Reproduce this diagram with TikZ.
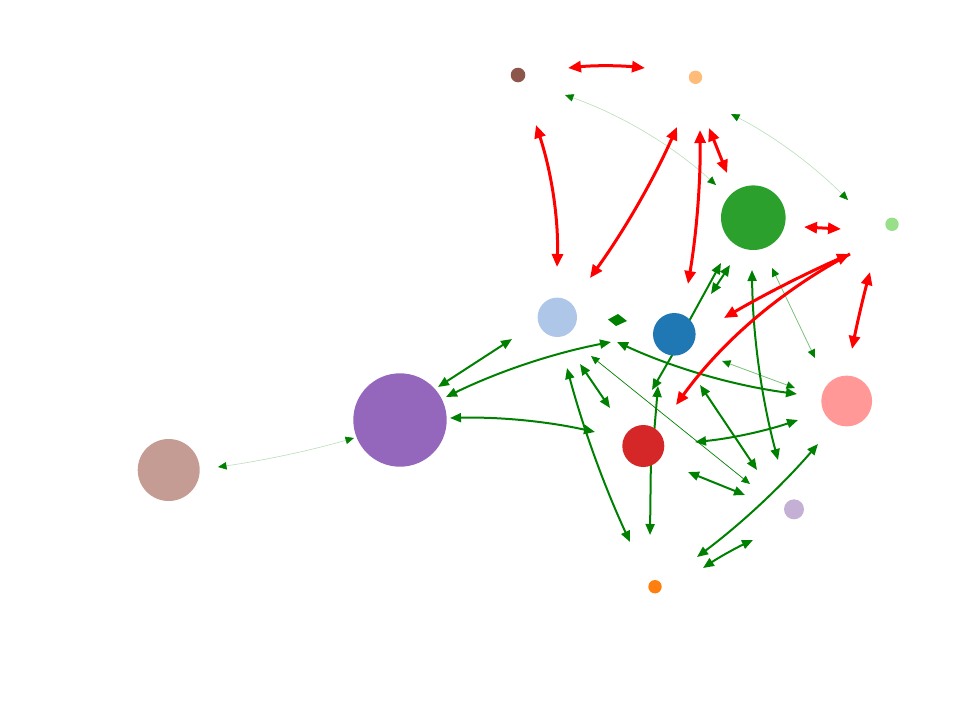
\documentclass[tikz,border=0pt]{standalone}
\usetikzlibrary{arrows.meta,calc}
\definecolor{cBrown}{HTML}{8C564B}
\definecolor{cLOrange}{HTML}{FFBB78}
\definecolor{cGreen}{HTML}{2CA02C}
\definecolor{cLGreen}{HTML}{98DF8A}
\definecolor{cLBlue}{HTML}{AEC7E8}
\definecolor{cBlue}{HTML}{1F77B4}
\definecolor{cPink}{HTML}{FF9896}
\definecolor{cPurple}{HTML}{9467BD}
\definecolor{cRosy}{HTML}{C49C94}
\definecolor{cRed}{HTML}{D62728}
\definecolor{cLPurple}{HTML}{C5B0D5}
\definecolor{cOrange}{HTML}{FF7F0E}
\definecolor{edgeRed}{HTML}{FF0000}
\definecolor{dkgreen}{HTML}{008000}
\definecolor{paleGreen}{HTML}{B8DEB8}
\definecolor{midGreen}{HTML}{7CC07C}
\pgfdeclarelayer{edges}
\pgfsetlayers{edges,main}
\begin{document}
\begin{tikzpicture}[x=1pt,y=-1pt,
  dot/.style={circle,inner sep=0pt,minimum size=#1,draw=none},
  redtip/.tip={Triangle[length=13pt,width=11pt]},
  gtip/.tip={Triangle[length=11pt,width=9pt]},
  ttip/.tip={Triangle[length=8.5pt,width=7.5pt,color=dkgreen]},
  redE/.style={draw=edgeRed,line width=3pt,redtip-redtip},
  redEend/.style={draw=edgeRed,line width=3pt,-redtip},
  grE/.style={draw=dkgreen,line width=2pt,gtip-gtip},
  grEend/.style={draw=dkgreen,line width=2pt,-gtip},
  thinE/.style={draw=paleGreen,line width=0.6pt,ttip-ttip},
  midE/.style={draw=midGreen,line width=0.8pt,ttip-ttip},
  darkthinE/.style={draw=dkgreen,line width=0.7pt,ttip-ttip}
]
\useasboundingbox (0,0) rectangle (979,707);
% nodes
\node[dot=14.6pt,fill=cBrown]   (brown)   at (518,75) {};
\node[dot=13.4pt,fill=cLOrange] (lorange) at (695.5,77.3) {};
\node[dot=64.6pt,fill=cGreen]   (green)   at (753.3,217.7) {};
\node[dot=13.4pt,fill=cLGreen]  (lgreen)  at (892,224.3) {};
\node[dot=39.4pt,fill=cLBlue]   (lblue)   at (557.3,317.3) {};
\node[dot=42.6pt,fill=cBlue]    (blue)    at (674.3,334.3) {};
\node[dot=50.8pt,fill=cPink]    (pink)    at (846.7,401) {};
\node[dot=93.4pt,fill=cPurple]  (purple)  at (400,420) {};
\node[dot=62pt,fill=cRosy]      (rosy)    at (168.7,470) {};
\node[dot=42pt,fill=cRed]       (red)     at (643.3,446) {};
\node[dot=20pt,fill=cLPurple]   (lpurple) at (794,509.3) {};
\node[dot=13.4pt,fill=cOrange]  (orange)  at (655,586.7) {};
% edge end points
\coordinate (r1a) at (568,68);   \coordinate (r1b) at (645,68);
\coordinate (r2a) at (536,125);  \coordinate (r2b) at (557,267);
\coordinate (r3a) at (677,127);  \coordinate (r3b) at (590,278);
\coordinate (r4a) at (700,130);  \coordinate (r4b) at (688,284);
\coordinate (r5a) at (709,128);  \coordinate (r5b) at (727,173);
\coordinate (r6a) at (804,227);  \coordinate (r6b) at (841,229);
\coordinate (r7a) at (850,254);  \coordinate (r7b) at (724,318);
\coordinate (r7c) at (676,405);
\coordinate (r8a) at (870,272);  \coordinate (r8b) at (852,349);
\coordinate (g1a) at (512,339);  \coordinate (g1b) at (438,387);
\coordinate (g2a) at (446,397);  \coordinate (g2b) at (611,342);
\coordinate (g3a) at (617,342);  \coordinate (g3b) at (797,394);
\coordinate (g4a) at (450,418);  \coordinate (g4b) at (595,432);
\coordinate (g5a) at (567,368);  \coordinate (g5b) at (630,542);
\coordinate (g6a) at (580,364);  \coordinate (g6b) at (610,408);
\coordinate (g7a) at (591,356);  \coordinate (g7b) at (750,484);
\coordinate (g8s) at (682,334);  \coordinate (g8e) at (721,263);
\coordinate (g8c) at (730,265);  \coordinate (g8d) at (711,294);
\coordinate (g8r) at (653,446);  \coordinate (g8h) at (658,386);
\coordinate (g8b) at (678,345);  \coordinate (g8k) at (652,390);
\coordinate (g9a) at (752,270);  \coordinate (g9b) at (778,460);
\coordinate (g10a) at (772,268); \coordinate (g10b) at (815,358);
\coordinate (g11a) at (722,361); \coordinate (g11b) at (795,388);
\coordinate (g12a) at (700,385); \coordinate (g12b) at (757,470);
\coordinate (g13a) at (695,442); \coordinate (g13b) at (798,420);
\coordinate (g14a) at (697,557); \coordinate (g14b) at (818,444);
\coordinate (g15a) at (688,472); \coordinate (g15b) at (745,495);
\coordinate (g16a) at (703,568); \coordinate (g16b) at (753,540);
\coordinate (g17a) at (651,452); \coordinate (g17b) at (650,535);
\coordinate (t1a) at (565,95);   \coordinate (t1b) at (716,185);
\coordinate (t2a) at (731,114);  \coordinate (t2b) at (848,200);
\coordinate (t3a) at (218,467);  \coordinate (t3b) at (354,438);
% quadratic control points
\coordinate (pt1) at (649.7,125);
\coordinate (pt2) at (795.3,147.2);
\coordinate (pt3) at (286.6,457.2);
\coordinate (pg2) at (525,358.5);
\coordinate (pg3) at (702.6,381.5);
\coordinate (pg4) at (523.4,416);
\coordinate (pg5) at (591,457.7);
\coordinate (pg9) at (753,366.6);
\coordinate (pg13) at (747.8,436.9);
\coordinate (pg14) at (763.6,507);
\coordinate (pg16) at (727,552);
\coordinate (pr1) at (605.5,64);
\coordinate (pr2) at (559.5,196);
\coordinate (pr3) at (641.3,207);
\coordinate (pr4) at (701,207);
\coordinate (pr7a) at (784,283);
\coordinate (pr7c) at (745,310);
\coordinate (pr8) at (860,309);
\begin{pgfonlayer}{edges}
% thin edges
\draw[thinE] (t1a) .. controls ($(t1a)!0.6667!(pt1)$) and ($(t1b)!0.6667!(pt1)$) .. (t1b);
\draw[thinE] (t2a) .. controls ($(t2a)!0.6667!(pt2)$) and ($(t2b)!0.6667!(pt2)$) .. (t2b);
\draw[thinE] (t3a) .. controls ($(t3a)!0.6667!(pt3)$) and ($(t3b)!0.6667!(pt3)$) .. (t3b);
\draw[midE] (g10a) -- (g10b);
\draw[midE] (g11a) -- (g11b);
\draw[darkthinE] (g7a) -- (g7b);
% green edges
\draw[grE] (g1a) -- (g1b);
\draw[grE] (g2a) .. controls ($(g2a)!0.6667!(pg2)$) and ($(g2b)!0.6667!(pg2)$) .. (g2b);
\draw[grE] (g3a) .. controls ($(g3a)!0.6667!(pg3)$) and ($(g3b)!0.6667!(pg3)$) .. (g3b);
\draw[grE] (g4a) .. controls ($(g4a)!0.6667!(pg4)$) and ($(g4b)!0.6667!(pg4)$) .. (g4b);
\draw[grE] (g5a) .. controls ($(g5a)!0.6667!(pg5)$) and ($(g5b)!0.6667!(pg5)$) .. (g5b);
\draw[grE] (g6a) -- (g6b);
\draw[grEend] (g8s) -- (g8e);
\draw[grE] (g8c) -- (g8d);
\draw[grEend] (g8r) -- (g8h);
\draw[grEend] (g8b) -- (g8k);
\draw[grE] (g9a) .. controls ($(g9a)!0.6667!(pg9)$) and ($(g9b)!0.6667!(pg9)$) .. (g9b);
\draw[grE] (g12a) -- (g12b);
\draw[grE] (g13a) .. controls ($(g13a)!0.6667!(pg13)$) and ($(g13b)!0.6667!(pg13)$) .. (g13b);
\draw[grE] (g14a) .. controls ($(g14a)!0.6667!(pg14)$) and ($(g14b)!0.6667!(pg14)$) .. (g14b);
\draw[grE] (g15a) -- (g15b);
\draw[grE] (g16a) .. controls ($(g16a)!0.6667!(pg16)$) and ($(g16b)!0.6667!(pg16)$) .. (g16b);
\draw[grEend] (g17a) -- (g17b);
\fill[dkgreen] (608,319.5) -- (618,314) -- (627,321) -- (616,326) -- cycle;
% red edges
\draw[redE] (r1a) .. controls ($(r1a)!0.6667!(pr1)$) and ($(r1b)!0.6667!(pr1)$) .. (r1b);
\draw[redE] (r2a) .. controls ($(r2a)!0.6667!(pr2)$) and ($(r2b)!0.6667!(pr2)$) .. (r2b);
\draw[redE] (r3a) .. controls ($(r3a)!0.6667!(pr3)$) and ($(r3b)!0.6667!(pr3)$) .. (r3b);
\draw[redE] (r4a) .. controls ($(r4a)!0.6667!(pr4)$) and ($(r4b)!0.6667!(pr4)$) .. (r4b);
\draw[redE] (r5a) -- (r5b);
\draw[redE] (r6a) -- (r6b);
\draw[redE] (r7a) .. controls ($(r7a)!0.6667!(pr7a)$) and ($(r7b)!0.6667!(pr7a)$) .. (r7b);
\draw[redEend] (r7a) .. controls ($(r7a)!0.6667!(pr7c)$) and ($(r7c)!0.6667!(pr7c)$) .. (r7c);
\draw[redE] (r8a) .. controls ($(r8a)!0.6667!(pr8)$) and ($(r8b)!0.6667!(pr8)$) .. (r8b);
\end{pgfonlayer}
\end{tikzpicture}
\end{document}
